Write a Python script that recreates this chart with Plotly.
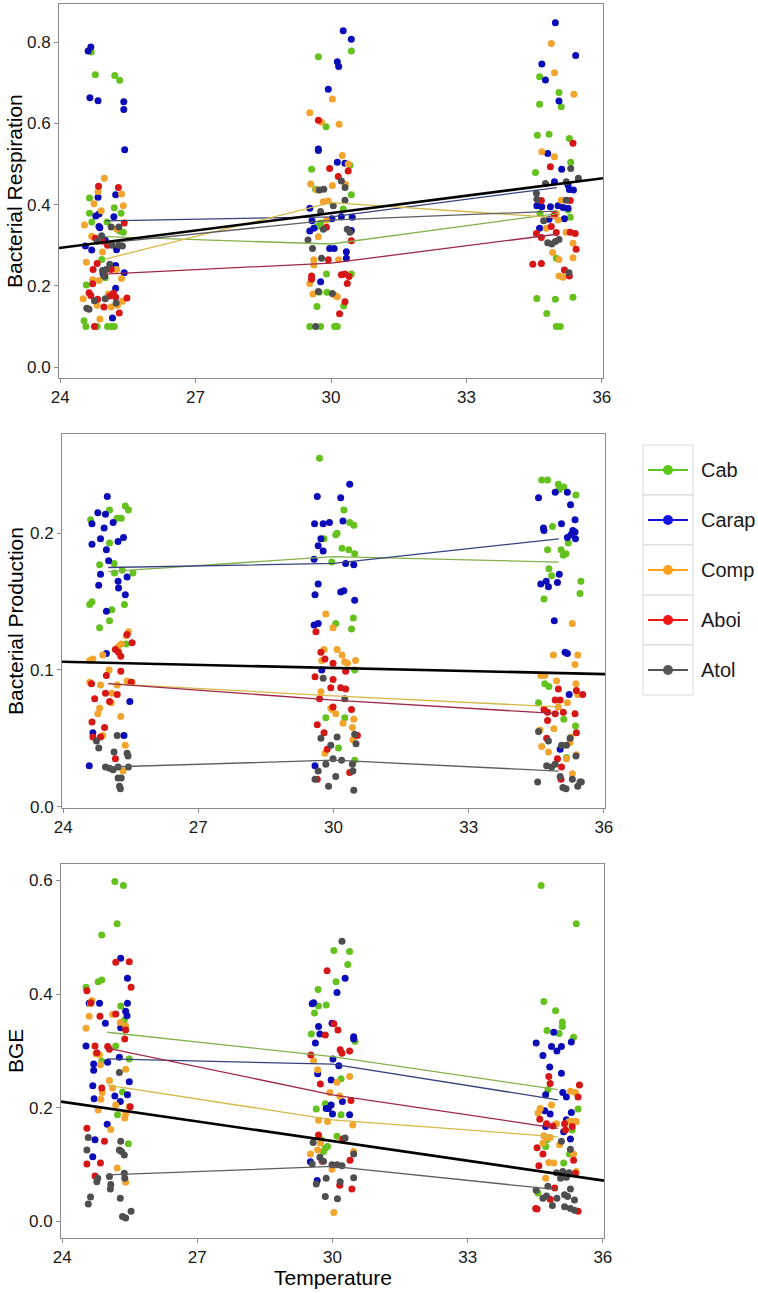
import plotly.graph_objects as go

# ---------------- data ----------------
groups = ["Cab", "Carap", "Comp", "Aboi", "Atol"]
temps = [25, 30, 35]

# Bacterial Respiration points (temperature with jitter, value)
resp_cab = [(24.69,0.776),(24.78,0.720),(25.21,0.718),(25.32,0.706),(24.65,0.416),(24.65,0.379),(24.70,0.357),(25.04,0.357),(25.20,0.392),(25.35,0.379),(25.40,0.332),(24.92,0.265),(24.58,0.202),(24.53,0.114),(24.57,0.100),(24.78,0.100),(24.82,0.100),(25.05,0.100),(25.14,0.100),(25.20,0.100),(25.00,0.220),(25.32,0.335),
            (29.72,0.764),(30.45,0.778),(29.89,0.592),(29.57,0.487),(29.66,0.438),(30.42,0.497),(30.45,0.424),(29.77,0.355),(29.69,0.346),(30.27,0.389),(29.90,0.229),(30.45,0.229),(29.74,0.184),(29.91,0.184),(29.69,0.149),(30.28,0.150),(29.53,0.100),(29.77,0.100),(30.08,0.100),(30.14,0.100),
            (34.62,0.715),(34.62,0.647),(35.05,0.676),(35.10,0.641),(34.57,0.571),(34.83,0.573),(35.28,0.563),(35.31,0.504),(34.53,0.479),(34.63,0.378),(35.25,0.387),(35.30,0.369),(34.56,0.169),(34.97,0.167),(34.78,0.132),(35.36,0.172),(34.99,0.100),(35.08,0.100),(34.99,0.268)]
resp_carap = [(24.62,0.778),(24.68,0.788),(24.66,0.663),(24.84,0.656),(25.41,0.653),(25.41,0.634),(25.43,0.535),(24.84,0.418),(25.23,0.424),(24.79,0.372),(24.86,0.377),(24.86,0.346),(24.88,0.343),(25.19,0.370),(25.25,0.289),(24.70,0.288),(24.56,0.298),(25.00,0.312),(25.42,0.232),(25.23,0.250),(24.95,0.230),(25.16,0.121),(25.23,0.194),(24.98,0.224),
              (30.27,0.828),(30.45,0.807),(30.14,0.752),(30.17,0.740),(29.94,0.684),(29.72,0.537),(29.72,0.533),(30.14,0.504),(29.53,0.391),(29.58,0.360),(29.53,0.335),(29.62,0.342),(30.45,0.336),(30.47,0.369),(30.23,0.370),(29.97,0.292),(30.07,0.292),(30.34,0.284),(30.34,0.268),(29.77,0.210),(30.02,0.365),(30.31,0.502),
              (34.97,0.848),(35.42,0.767),(34.67,0.746),(34.75,0.707),(35.05,0.655),(34.80,0.526),(35.11,0.487),(34.95,0.456),(35.25,0.448),(35.28,0.437),(35.37,0.436),(34.56,0.397),(34.67,0.395),(34.86,0.395),(35.03,0.397),(35.14,0.393),(34.83,0.364),(35.17,0.365),(34.62,0.342),(35.25,0.391)]
resp_comp = [(24.98,0.465),(24.84,0.432),(24.75,0.402),(24.91,0.385),(24.54,0.350),(25.36,0.426),(25.40,0.397),(24.70,0.322),(25.25,0.340),(24.58,0.258),(24.72,0.215),(24.86,0.213),(24.51,0.168),(24.82,0.152),(24.88,0.118),(25.13,0.148),(25.25,0.240),(25.36,0.218),(25.38,0.162),(25.27,0.152),(24.94,0.283),(25.07,0.180),
             (29.53,0.626),(29.79,0.603),(30.18,0.598),(30.03,0.660),(30.25,0.521),(30.38,0.500),(29.55,0.451),(29.69,0.436),(30.03,0.447),(29.83,0.407),(29.94,0.409),(29.72,0.321),(29.90,0.362),(29.62,0.264),(29.62,0.251),(29.53,0.206),(29.60,0.180),(30.08,0.177),(30.14,0.173),(30.17,0.264),(30.32,0.450),
             (34.88,0.797),(34.95,0.725),(35.38,0.672),(34.67,0.530),(34.95,0.518),(34.77,0.342),(34.99,0.378),(35.03,0.362),(35.21,0.332),(34.91,0.282),(35.05,0.265),(35.36,0.305),(35.36,0.269),(35.05,0.224),(35.14,0.221),(35.10,0.411)]
resp_aboi = [(24.85,0.445),(25.29,0.442),(24.78,0.317),(24.73,0.240),(24.82,0.255),(24.72,0.205),(24.64,0.183),(24.68,0.176),(24.76,0.100),(24.83,0.167),(24.97,0.148),(25.10,0.175),(25.18,0.182),(25.23,0.172),(25.31,0.133),(25.48,0.170),(24.94,0.310),(25.13,0.240),(25.42,0.355),(25.05,0.300),
             (29.72,0.608),(29.97,0.489),(30.16,0.469),(30.38,0.483),(29.90,0.344),(29.57,0.224),(29.57,0.216),(29.94,0.264),(30.23,0.227),(30.31,0.229),(30.40,0.223),(30.36,0.206),(30.31,0.161),(30.19,0.131),(30.45,0.311),
             (35.36,0.551),(34.86,0.493),(34.66,0.410),(35.30,0.410),(34.94,0.374),(34.55,0.329),(34.66,0.319),(34.88,0.346),(35.30,0.332),(35.41,0.329),(35.43,0.290),(34.47,0.253),(34.66,0.255),(35.17,0.239),(35.28,0.224),(34.99,0.331)]
resp_atol = [(24.59,0.145),(24.64,0.142),(24.76,0.163),(24.92,0.323),(25.13,0.345),(25.30,0.345),(25.38,0.298),(25.15,0.300),(25.02,0.240),(24.94,0.238),(25.00,0.168),(25.24,0.158),(25.10,0.253),(24.83,0.310),(25.30,0.300),(24.97,0.225),
             (29.74,0.436),(29.84,0.438),(30.23,0.458),(30.31,0.442),(30.05,0.397),(29.77,0.383),(29.49,0.313),(29.59,0.292),(29.83,0.339),(30.36,0.339),(30.42,0.332),(29.79,0.268),(29.72,0.186),(30.03,0.181),(29.66,0.100),(30.31,0.411),
             (35.48,0.465),(34.75,0.452),(35.31,0.489),(34.55,0.428),(35.21,0.411),(34.56,0.413),(34.71,0.360),(34.80,0.306),(34.89,0.303),(34.97,0.309),(35.05,0.314),(35.27,0.232),(35.21,0.456)]

# Bacterial Production points
prod_cab = [(25.38,0.220),(25.45,0.217),(25.03,0.217),(24.61,0.210),(25.20,0.211),(25.29,0.211),(25.03,0.193),(24.81,0.177),(25.13,0.178),(25.14,0.171),(25.31,0.173),(25.55,0.171),(24.64,0.150),(24.59,0.148),(25.36,0.148),(25.08,0.144),(25.03,0.136),(24.81,0.131),(25.40,0.119),
            (29.69,0.255),(30.23,0.217),(30.36,0.208),(30.45,0.206),(30.05,0.199),(30.08,0.200),(29.79,0.196),(30.19,0.189),(30.34,0.188),(30.47,0.185),(29.96,0.179),(30.44,0.138),(30.40,0.130),(30.05,0.134),(29.83,0.065),(30.25,0.065),(30.11,0.043),(30.47,0.034),(30.47,0.100),
            (34.62,0.239),(34.75,0.239),(34.99,0.236),(35.01,0.232),(35.11,0.234),(35.38,0.228),(34.86,0.205),(35.21,0.193),(34.75,0.188),(35.05,0.188),(35.16,0.185),(35.10,0.184),(34.78,0.174),(34.84,0.169),(34.67,0.152),(35.49,0.165),(35.47,0.156),(34.69,0.090),(34.78,0.088),(34.55,0.076),(35.11,0.064),(35.37,0.059),(35.17,0.036)]
prod_carap = [(24.98,0.227),(24.77,0.215),(24.94,0.214),(24.64,0.207),(25.11,0.208),(24.91,0.204),(25.34,0.197),(24.83,0.196),(25.22,0.194),(24.64,0.192),(24.96,0.188),(25.01,0.180),(24.83,0.170),(25.42,0.168),(25.22,0.165),(24.79,0.162),(25.23,0.160),(25.38,0.155),(24.96,0.143),(25.48,0.077),(24.66,0.054),(25.35,0.052),(24.58,0.030),(24.96,0.112),
              (30.36,0.236),(29.64,0.227),(30.16,0.226),(29.58,0.207),(29.77,0.207),(29.91,0.208),(30.21,0.209),(29.72,0.196),(29.66,0.191),(29.77,0.187),(29.57,0.181),(30.27,0.178),(30.45,0.177),(29.66,0.163),(29.59,0.155),(30.16,0.157),(30.23,0.158),(30.47,0.151),(29.57,0.133),(29.66,0.134),(29.74,0.100),(29.59,0.030),
              (34.55,0.226),(34.92,0.230),(35.19,0.230),(35.26,0.221),(35.36,0.210),(34.66,0.204),(34.67,0.202),(35.06,0.207),(35.31,0.202),(35.36,0.201),(35.19,0.197),(35.37,0.196),(35.27,0.199),(35.01,0.170),(34.60,0.163),(34.72,0.165),(34.77,0.161),(34.97,0.164),(34.90,0.136),(35.14,0.113),(35.19,0.112),(35.23,0.082),(35.03,0.042)]
prod_comp = [(25.45,0.128),(25.40,0.125),(25.29,0.119),(24.88,0.111),(24.66,0.108),(24.59,0.107),(25.02,0.100),(24.59,0.091),(24.83,0.089),(25.42,0.092),(25.20,0.089),(25.53,0.091),(25.08,0.083),(25.07,0.076),(24.81,0.072),(24.77,0.068),(25.28,0.066),(24.88,0.052),(25.38,0.045),(25.33,0.026),(25.22,0.117),
             (29.83,0.141),(29.99,0.131),(29.79,0.115),(30.08,0.115),(30.19,0.111),(30.25,0.106),(30.31,0.105),(30.49,0.107),(29.74,0.107),(29.94,0.072),(29.97,0.071),(30.05,0.068),(30.21,0.061),(30.45,0.064),(30.42,0.058),(29.81,0.039),(30.43,0.049),(29.72,0.084),
             (35.30,0.134),(34.88,0.111),(35.42,0.111),(35.36,0.104),(34.60,0.096),(34.69,0.096),(34.95,0.092),(35.38,0.090),(34.99,0.073),(35.19,0.076),(35.42,0.082),(34.89,0.057),(34.58,0.056),(35.27,0.051),(34.62,0.044),(34.77,0.040),(35.39,0.038),(35.17,0.035),(35.30,0.024),(35.25,0.047)]
prod_aboi = [(25.42,0.126),(25.53,0.120),(25.16,0.115),(25.28,0.110),(25.23,0.113),(24.96,0.096),(25.28,0.099),(25.51,0.091),(24.63,0.090),(24.94,0.083),(24.70,0.079),(25.20,0.082),(25.03,0.077),(24.64,0.062),(24.92,0.058),(24.66,0.051),(24.83,0.051),(25.16,0.035),
             (29.72,0.113),(29.81,0.108),(29.99,0.105),(29.59,0.095),(29.99,0.093),(30.27,0.099),(29.94,0.087),(30.16,0.087),(30.27,0.086),(29.69,0.079),(29.99,0.073),(30.40,0.071),(29.64,0.060),(29.79,0.054),(29.86,0.042),(30.53,0.052),(29.64,0.020),(30.36,0.025),(29.61,0.128),
             (34.99,0.086),(35.39,0.085),(35.53,0.082),(34.92,0.078),(35.03,0.078),(34.67,0.071),(34.75,0.069),(34.92,0.068),(35.10,0.069),(35.36,0.068),(34.75,0.063),(34.73,0.050),(34.97,0.035),(35.06,0.029),(35.05,0.020),(35.39,0.054)]
prod_atol = [(25.20,0.052),(24.74,0.048),(24.79,0.043),(25.13,0.040),(25.42,0.039),(25.44,0.037),(24.94,0.029),(25.03,0.028),(25.11,0.027),(25.22,0.029),(25.45,0.029),(25.22,0.021),(25.29,0.021),(25.25,0.015),(25.27,0.013),
             (29.77,0.094),(30.25,0.079),(29.72,0.050),(30.08,0.051),(29.94,0.045),(30.47,0.053),(30.50,0.046),(29.66,0.026),(29.83,0.031),(29.99,0.035),(30.18,0.034),(30.42,0.031),(30.05,0.022),(29.59,0.020),(29.89,0.015),(30.45,0.012),(30.43,0.026),
             (34.55,0.055),(34.77,0.048),(35.06,0.045),(35.17,0.045),(35.25,0.050),(34.73,0.030),(34.84,0.029),(34.92,0.031),(35.03,0.022),(35.09,0.014),(35.16,0.013),(35.42,0.015),(35.47,0.018),(35.50,0.018),(34.53,0.018),(35.30,0.020),(35.38,0.037)]

# BGE points
bge_cab = [(25.17,0.598),(25.36,0.591),(25.22,0.524),(24.88,0.504),(24.80,0.422),(24.88,0.425),(24.53,0.412),(25.30,0.379),(25.38,0.354),(25.19,0.309),(25.49,0.286),(24.88,0.282),(25.34,0.228),(25.23,0.188),(25.47,0.137),
           (30.03,0.477),(30.38,0.475),(30.34,0.452),(30.08,0.422),(29.68,0.408),(29.69,0.379),(29.86,0.381),(29.60,0.367),(29.53,0.330),(30.50,0.317),(30.19,0.251),(29.64,0.198),(29.84,0.207),(30.19,0.188),(30.10,0.150),(29.84,0.129),(29.89,0.132),(29.80,0.123),(29.75,0.144),
           (34.63,0.591),(35.41,0.524),(34.69,0.387),(34.95,0.371),(35.10,0.351),(35.10,0.343),(34.76,0.336),(35.03,0.331),(35.35,0.324),(34.78,0.232),(34.61,0.198),(35.45,0.198),(35.32,0.161),(34.73,0.132),(34.76,0.144),(35.26,0.119),(34.56,0.050),(35.13,0.103)]
bge_carap = [(25.30,0.463),(25.45,0.428),(24.83,0.384),(24.60,0.384),(25.45,0.384),(25.41,0.370),(25.44,0.362),(24.96,0.349),(25.30,0.341),(24.53,0.309),(25.27,0.289),(25.01,0.280),(24.70,0.277),(24.70,0.266),(25.49,0.246),(24.68,0.239),(25.17,0.221),(25.45,0.223),(24.71,0.216),(25.29,0.211),(25.00,0.171),(24.73,0.144),(24.68,0.114),
             (30.28,0.428),(30.10,0.403),(29.55,0.383),(29.58,0.385),(29.69,0.343),(29.72,0.330),(29.99,0.349),(29.62,0.314),(30.47,0.325),(30.47,0.321),(30.01,0.286),(30.14,0.274),(29.67,0.260),(29.97,0.249),(30.22,0.211),(29.97,0.205),(29.86,0.199),(30.00,0.189),(30.38,0.188),(29.91,0.199),(29.51,0.105),(29.66,0.072),
             (34.52,0.314),(34.67,0.292),(34.91,0.333),(34.86,0.308),(34.98,0.300),(35.08,0.308),(35.30,0.316),(35.08,0.261),(35.11,0.227),(34.73,0.223),(35.19,0.219),(34.71,0.195),(34.83,0.189),(34.73,0.167),(35.19,0.179),(35.30,0.192),(35.13,0.158),(35.28,0.145),(34.82,0.272)]
bge_comp = [(24.66,0.389),(24.63,0.383),(24.60,0.361),(24.53,0.340),(25.12,0.364),(25.29,0.350),(25.41,0.344),(24.75,0.295),(24.83,0.293),(24.85,0.276),(25.41,0.268),(25.05,0.248),(25.12,0.235),(24.89,0.227),(24.86,0.215),(25.19,0.205),(24.80,0.196),(25.41,0.190),(25.49,0.202),(25.39,0.182),(25.08,0.162),(25.22,0.094),(25.41,0.069),
            (29.58,0.283),(29.67,0.267),(30.38,0.255),(30.10,0.245),(29.94,0.227),(30.16,0.221),(29.69,0.178),(29.89,0.176),(30.45,0.170),(29.73,0.138),(29.51,0.119),(29.67,0.126),(30.47,0.123),(29.99,0.092),(30.03,0.016),(30.21,0.144),
            (34.61,0.199),(34.56,0.191),(34.86,0.205),(34.97,0.172),(34.69,0.151),(34.76,0.148),(34.83,0.148),(34.67,0.138),(35.28,0.229),(35.39,0.227),(35.25,0.176),(35.32,0.176),(35.41,0.176),(35.04,0.135),(35.35,0.119),(34.80,0.104),(34.91,0.103),(34.73,0.076),(35.41,0.088)]
bge_aboi = [(24.55,0.406),(24.64,0.385),(24.84,0.361),(25.19,0.456),(25.49,0.457),(25.53,0.412),(25.19,0.365),(25.41,0.337),(25.39,0.321),(24.73,0.309),(25.01,0.308),(24.77,0.297),(25.05,0.303),(24.88,0.235),(25.51,0.202),(24.55,0.164),(24.94,0.141),(24.55,0.101),(24.85,0.103),(24.73,0.080),
            (29.88,0.441),(30.12,0.337),(30.03,0.348),(29.84,0.328),(30.17,0.302),(30.21,0.296),(30.38,0.300),(29.52,0.293),(29.73,0.242),(30.41,0.213),(29.69,0.152),(30.23,0.145),(30.39,0.108),(30.16,0.064),(30.43,0.057),(29.77,0.106),
            (34.80,0.255),(34.83,0.243),(35.48,0.240),(35.45,0.219),(34.60,0.180),(34.75,0.172),(35.15,0.172),(35.17,0.161),(34.89,0.168),(34.54,0.130),(34.67,0.119),(34.58,0.098),(35.35,0.108),(34.93,0.059),(34.83,0.039),(34.51,0.023),(34.54,0.022),(35.45,0.018),(35.39,0.085),(35.32,0.167)]
bge_atol = [(24.58,0.148),(24.55,0.126),(25.27,0.262),(25.30,0.141),(25.27,0.126),(25.32,0.123),(25.38,0.117),(24.79,0.076),(24.77,0.070),(25.05,0.079),(25.08,0.065),(25.07,0.057),(25.38,0.085),(25.39,0.076),(25.29,0.041),(24.63,0.043),(24.58,0.031),(25.34,0.009),(25.41,0.006),(25.53,0.018),
            (30.21,0.493),(29.57,0.139),(30.28,0.147),(30.47,0.119),(29.72,0.113),(29.80,0.106),(29.99,0.100),(30.10,0.100),(30.21,0.098),(29.55,0.101),(29.86,0.076),(30.17,0.070),(29.64,0.066),(29.84,0.044),(30.11,0.040),(30.47,0.077),
            (35.08,0.141),(35.28,0.127),(35.11,0.088),(34.97,0.086),(35.06,0.076),(35.19,0.078),(35.28,0.057),(35.22,0.044),(34.78,0.062),(35.15,0.047),(34.75,0.045),(34.88,0.028),(34.98,0.041),(35.15,0.026),(35.28,0.023),(35.37,0.020),(35.37,0.038),(34.52,0.055),(34.67,0.041),(35.25,0.086)]

# group mean lines at 25, 30, 35 degrees
resp_means = {"Cab": [0.321, 0.303, 0.378], "Carap": [0.360, 0.370, 0.442], "Comp": [0.266, 0.405, 0.368],
              "Aboi": [0.229, 0.256, 0.327], "Atol": [0.305, 0.362, 0.384]}
prod_means = {"Cab": [0.172, 0.183, 0.179], "Carap": [0.175, 0.178, 0.196], "Comp": [0.090, 0.081, 0.073],
              "Aboi": [0.090, 0.078, 0.068], "Atol": [0.029, 0.034, 0.026]}
bge_means = {"Cab": [0.333, 0.290, 0.232], "Carap": [0.286, 0.277, 0.214], "Comp": [0.240, 0.179, 0.149],
             "Aboi": [0.305, 0.223, 0.164], "Atol": [0.082, 0.097, 0.056]}

# overall linear fit, evaluated at the x-axis limits
fit_x = [23.975, 36.025]
resp_fit = [0.293, 0.465]
prod_fit = [0.106, 0.097]
bge_fit = [0.211, 0.072]

# ---------------- styling ----------------
W, H = 758, 1293
point_colors = {"Cab": "#64C11E", "Carap": "#0B0BB8", "Comp": "#F2A42C", "Aboi": "#D71616", "Atol": "#4E4E4E"}
line_colors = {"Cab": "#82B24A", "Carap": "#36427E", "Comp": "#D6B846", "Aboi": "#9E2848", "Atol": "#5E5E5E"}
legend_colors = {"Cab": "#5CC71A", "Carap": "#1414E0", "Comp": "#FFA31F", "Aboi": "#F01616", "Atol": "#575757"}
FONT = "Liberation Sans, Arial, sans-serif"

panels = [
    dict(points=[resp_cab, resp_carap, resp_comp, resp_aboi, resp_atol], means=resp_means, fit=resp_fit,
         title="Bacterial Respiration", px=(59, 603), py=(4, 378), yrange=[-0.027, 0.894], dtick=0.2),
    dict(points=[prod_cab, prod_carap, prod_comp, prod_aboi, prod_atol], means=prod_means, fit=prod_fit,
         title="Bacterial Production", px=(62, 605), py=(434, 808), yrange=[-0.001, 0.2727], dtick=0.1),
    dict(points=[bge_cab, bge_carap, bge_comp, bge_aboi, bge_atol], means=bge_means, fit=bge_fit,
         title="BGE", px=(61, 604), py=(864, 1238), yrange=[-0.029, 0.629], dtick=0.2),
]

fig = go.Figure()
layout = dict(width=W, height=H, autosize=False, margin=dict(l=0, r=0, t=0, b=0, pad=0),
              paper_bgcolor="white", plot_bgcolor="white", showlegend=False,
              font=dict(family=FONT, color="#1a1a1a"))
annotations = []
shapes = []

for i, p in enumerate(panels):
    sfx = "" if i == 0 else str(i + 1)
    xa, ya = "x" + sfx, "y" + sfx
    # points
    for g, pts in zip(groups, p["points"]):
        fig.add_trace(go.Scatter(x=[t for t, v in pts], y=[v for t, v in pts], mode="markers",
                                 marker=dict(size=7, color=point_colors[g], line=dict(width=0)),
                                 xaxis=xa, yaxis=ya, name=g, hoverinfo="x+y+name"))
    # group lines
    for g in groups:
        fig.add_trace(go.Scatter(x=temps, y=p["means"][g], mode="lines",
                                 line=dict(color=line_colors[g], width=1.3),
                                 xaxis=xa, yaxis=ya, name=g + " mean"))
    # overall fit
    fig.add_trace(go.Scatter(x=fit_x, y=p["fit"], mode="lines", line=dict(color="black", width=2.6),
                             xaxis=xa, yaxis=ya, name="fit"))

    axcommon = dict(showgrid=False, zeroline=False, showline=True, mirror=True, linecolor="#8c8c8c",
                    linewidth=1, ticks="outside", ticklen=4, tickcolor="#8c8c8c", tickwidth=1,
                    automargin=False,
                    tickfont=dict(size=17, family=FONT, color="#1a1a1a"))
    layout["xaxis" + sfx] = dict(axcommon, domain=[p["px"][0] / W, p["px"][1] / W], range=[23.975, 36.025],
                                 tickvals=[24, 27, 30, 33, 36], anchor=ya)
    layout["yaxis" + sfx] = dict(axcommon, domain=[1 - p["py"][1] / H, 1 - p["py"][0] / H], range=p["yrange"],
                                 dtick=p["dtick"], tick0=0, tickformat=".1f", anchor=xa)
    annotations.append(dict(text=p["title"], x=15 / W, y=1 - (p["py"][0] + p["py"][1]) / 2 / H,
                            xref="paper", yref="paper", textangle=-90, showarrow=False,
                            xanchor="center", yanchor="middle", font=dict(size=21, family=FONT, color="black")))

annotations.append(dict(text="Temperature", x=333 / W, y=1 - 1277 / H, xref="paper", yref="paper",
                        showarrow=False, xanchor="center", yanchor="middle",
                        font=dict(size=21, family=FONT, color="black")))

# legend (ggplot-style keys)
top = 445
for k, g in enumerate(groups):
    y0, y1 = top + 50 * k, top + 50 * (k + 1)
    cy = (y0 + y1) / 2
    shapes.append(dict(type="rect", xref="paper", yref="paper", x0=643 / W, x1=693 / W,
                       y0=1 - y1 / H, y1=1 - y0 / H, line=dict(color="#d9d9d9", width=1), fillcolor="white"))
    shapes.append(dict(type="line", xref="paper", yref="paper", x0=648 / W, x1=688 / W,
                       y0=1 - cy / H, y1=1 - cy / H, line=dict(color=legend_colors[g], width=2)))
    shapes.append(dict(type="circle", xref="paper", yref="paper", x0=(668 - 5) / W, x1=(668 + 5) / W,
                       y0=1 - (cy + 5) / H, y1=1 - (cy - 5) / H, line=dict(width=0),
                       fillcolor=legend_colors[g]))
    annotations.append(dict(text=g, x=699 / W, y=1 - cy / H, xref="paper", yref="paper", showarrow=False,
                            xanchor="left", yanchor="middle", font=dict(size=20, family=FONT, color="#1a1a1a")))

layout["annotations"] = annotations
layout["shapes"] = shapes
fig.update_layout(**layout)
fig.write_html("out.html", config={"displayModeBar": False},
               post_script="document.body.style.margin='0';document.body.style.overflow='hidden';")
